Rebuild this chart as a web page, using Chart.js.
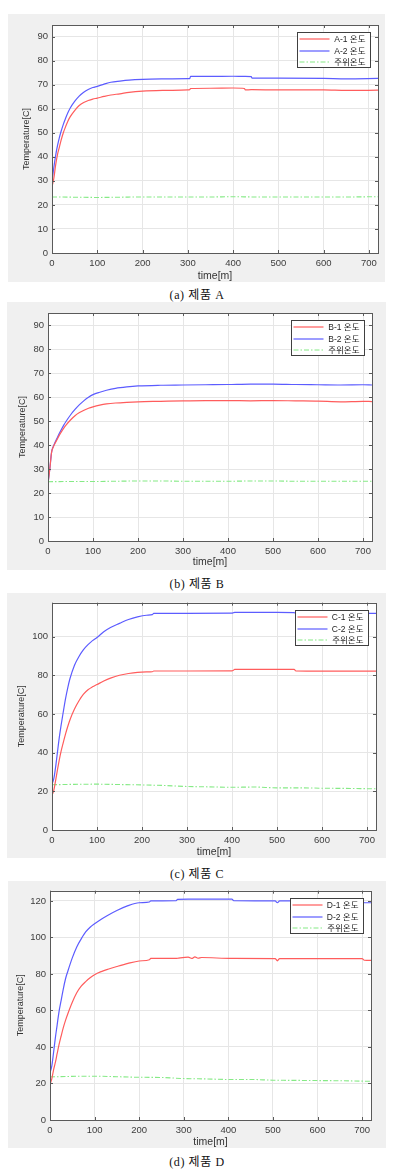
<!DOCTYPE html>
<html>
<head>
<meta charset="utf-8">
<script src="https://cdn.jsdelivr.net/npm/chart.js@4.4.0/dist/chart.umd.min.js"></script>
<style>
body { margin: 0; background: #fff; width: 398px; height: 1171px; position: relative; overflow: hidden; }
.panel { position: absolute; background: #f0f0f0; }
.panel canvas { display: block; }
.cap { position: absolute; left: 0; width: 394px; text-align: center; letter-spacing: 0.6px;
       font: 12px "Liberation Serif", "Noto Sans CJK KR", serif; color: #111; }
</style>
</head>
<body>
<div class="panel" style="left:8px;top:14px;width:377px;height:268px"><canvas id="chartA"></canvas></div>
<div class="cap" style="top:285px">(a) 제품 A</div>
<div class="panel" style="left:7px;top:302px;width:379px;height:268px"><canvas id="chartB"></canvas></div>
<div class="cap" style="top:574px">(b) 제품 B</div>
<div class="panel" style="left:7px;top:593px;width:379px;height:265px"><canvas id="chartC"></canvas></div>
<div class="cap" style="top:864px">(c) 제품 C</div>
<div class="panel" style="left:8px;top:881px;width:378px;height:267px"><canvas id="chartD"></canvas></div>
<div class="cap" style="top:1152px">(d) 제품 D</div>

<script>
// ambient temperature is sampled coarser than the product sensors
var ambTime = [0, 50, 100, 150, 200, 250, 300, 350, 400, 450, 500, 550, 600, 650, 720];

var timeA = [0, 4, 8, 12, 16, 20, 25, 30, 35, 40, 50, 60, 70, 80, 90, 100, 115, 130, 150, 170, 200, 250, 300, 304, 306, 350, 400, 425, 427, 440, 442, 500, 600, 650, 720];
var tempA1 = [27.5, 31, 36.5, 40.8, 43.8, 46.8, 50.0, 52.5, 54.8, 56.6, 59.2, 61.3, 62.6, 63.4, 64.0, 64.4, 65.1, 65.7, 66.2, 66.8, 67.3, 67.6, 67.8, 67.9, 68.4, 68.5, 68.6, 68.4, 67.8, 67.9, 67.9, 67.8, 67.8, 67.6, 67.7];
var tempA2 = [29.6, 35.5, 40.5, 44.5, 47.8, 50.5, 53.5, 56.0, 58.3, 60.2, 63.0, 65.2, 66.8, 68.0, 68.8, 69.3, 70.2, 71.0, 71.5, 71.9, 72.2, 72.4, 72.5, 72.5, 73.4, 73.4, 73.5, 73.4, 73.4, 73.3, 72.7, 72.7, 72.6, 72.4, 72.6];
var ambA = [23.3, 23.2, 23.1, 23.2, 23.3, 23.3, 23.3, 23.3, 23.4, 23.3, 23.3, 23.3, 23.3, 23.3, 23.4];

var timeB = [0, 4, 8, 12, 16, 20, 25, 30, 35, 40, 50, 60, 70, 80, 90, 100, 115, 130, 150, 175, 200, 250, 300, 350, 400, 450, 500, 550, 600, 650, 700, 720];
var tempB1 = [24, 30, 37, 39.3, 40.8, 42.2, 44, 45.6, 47, 48.3, 50.4, 52.2, 53.5, 54.5, 55.3, 55.9, 56.6, 57.1, 57.5, 57.8, 58.0, 58.2, 58.4, 58.5, 58.5, 58.4, 58.5, 58.4, 58.3, 58.0, 58.2, 58.1];
var tempB2 = [24, 30, 37, 39.5, 41.2, 42.8, 44.8, 46.6, 48.3, 49.8, 52.5, 54.8, 56.8, 58.5, 59.9, 61.0, 62.0, 62.8, 63.6, 64.2, 64.6, 64.9, 65.0, 65.1, 65.2, 65.4, 65.4, 65.2, 65.1, 65.0, 65.1, 65.0];
var ambB = [24.7, 24.8, 24.8, 24.9, 25.0, 25.0, 24.9, 24.9, 24.9, 25.0, 25.0, 24.9, 24.9, 24.9, 24.9];

var timeC = [0, 4, 8, 12, 16, 20, 25, 30, 35, 40, 50, 60, 70, 80, 90, 100, 115, 130, 150, 170, 190, 210, 223, 226, 300, 400, 403, 406, 500, 538, 542, 600, 720];
var tempC1 = [17.9, 20.5, 25.5, 31, 36, 40.5, 45.2, 49.6, 53.5, 57, 62.5, 66.8, 70.2, 72.5, 74.0, 75.2, 77.0, 78.5, 80.0, 80.9, 81.5, 81.7, 81.8, 82.2, 82.2, 82.3, 82.6, 83.0, 83.0, 83.0, 82.2, 82.1, 82.1];
var tempC2 = [23.8, 26.5, 32.5, 40, 47.5, 53.8, 61, 67.8, 73.5, 78.3, 85.2, 89.7, 93.2, 95.8, 97.9, 99.5, 102.5, 104.7, 106.8, 108.8, 110.2, 111.0, 111.3, 112.0, 112.0, 112.1, 112.3, 112.5, 112.5, 112.4, 112.0, 112.0, 112.0];
var ambC = [23.4, 23.6, 23.7, 23.5, 23.3, 23.0, 22.5, 22.3, 22.1, 22.2, 21.8, 21.8, 21.6, 21.5, 21.3];

var timeD = [0, 4, 8, 12, 16, 20, 25, 30, 35, 40, 50, 60, 70, 80, 90, 100, 115, 130, 150, 175, 200, 223, 226, 283, 286, 310, 318, 325, 332, 340, 408, 412, 505, 510, 515, 700, 705, 720];
var tempD1 = [19.5, 22.5, 27.5, 31.5, 36.3, 41, 46, 50.7, 54.7, 58.2, 64.5, 69.7, 73.3, 75.8, 77.9, 79.6, 81.3, 82.6, 84.1, 85.8, 87.1, 87.8, 88.5, 88.5, 88.6, 89.2, 88.5, 89.3, 88.6, 89.0, 88.5, 88.5, 88.4, 87.2, 88.4, 88.4, 87.5, 87.4];
var tempD2 = [25.9, 29.5, 37, 45, 52, 59, 65.5, 72, 77.5, 81.5, 88.8, 94.8, 99.2, 103, 105.6, 107.5, 110, 112.2, 114.8, 117.4, 119.0, 119.4, 120.0, 120.1, 120.9, 121.0, 121.0, 121.0, 121.0, 121.0, 121.0, 120.1, 120.0, 119.0, 120.0, 120.0, 119.0, 119.0];
var ambD = [23.6, 23.9, 24.0, 23.7, 23.4, 23.3, 22.7, 22.5, 22.2, 22.2, 21.8, 21.7, 21.6, 21.5, 21.2];

var FONT = '"Liberation Sans", Arial, "Noto Sans CJK KR", sans-serif';

function pts(xs, ys) {
    return xs.map(function(x, i) { return {x: x, y: ys[i]}; });
}

// white axes background, MATLAB style box with inward ticks, legend in the corner
var matlabPlugin = {
    id: 'matlab',
    beforeDraw: function(chart) {
        var a = chart.chartArea, ctx = chart.ctx;
        ctx.save();
        ctx.fillStyle = '#ffffff';
        ctx.fillRect(a.left, a.top, a.right - a.left, a.bottom - a.top);
        ctx.restore();
    },
    afterDatasetsDraw: function(chart) {
        var a = chart.chartArea, ctx = chart.ctx;
        var xs = chart.scales.x, ys = chart.scales.y;
        ctx.save();
        ctx.strokeStyle = '#5a5a5a';
        ctx.lineWidth = 1;
        ctx.beginPath();
        xs.ticks.forEach(function(t) {
            var px = Math.round(xs.getPixelForValue(t.value)) + 0.5;
            ctx.moveTo(px, a.bottom); ctx.lineTo(px, a.bottom - 3);
            ctx.moveTo(px, a.top); ctx.lineTo(px, a.top + 3);
        });
        ys.ticks.forEach(function(t) {
            var py = Math.round(ys.getPixelForValue(t.value)) + 0.5;
            ctx.moveTo(a.left, py); ctx.lineTo(a.left + 3, py);
            ctx.moveTo(a.right, py); ctx.lineTo(a.right - 3, py);
        });
        ctx.stroke();
        ctx.strokeRect(Math.round(a.left) + 0.5, Math.round(a.top) + 0.5,
            Math.round(a.right - a.left), Math.round(a.bottom - a.top));
        ctx.restore();
    },
    afterDraw: function(chart) {
        var a = chart.chartArea, ctx = chart.ctx;
        var w = 73, h = 35;
        var bx = Math.round(a.right - 8 - w) + 0.5, by = Math.round(a.top + 7) + 0.5;
        ctx.save();
        ctx.fillStyle = '#ffffff';
        ctx.fillRect(bx, by, w, h);
        ctx.strokeStyle = '#404040';
        ctx.lineWidth = 1;
        ctx.strokeRect(bx, by, w, h);
        chart.data.datasets.forEach(function(ds, i) {
            var ry = Math.round(by + 6.3 + i * 11.7);
            ctx.strokeStyle = ds.borderColor;
            ctx.lineWidth = ds.borderWidth;
            ctx.setLineDash(ds.borderDash || []);
            ctx.beginPath();
            ctx.moveTo(bx + 2, ry); ctx.lineTo(bx + 32, ry);
            ctx.stroke();
            ctx.setLineDash([]);
            ctx.fillStyle = '#262626';
            ctx.font = '8.5px ' + FONT;
            ctx.textAlign = 'right';
            ctx.textBaseline = 'middle';
            ctx.fillText(ds.label, bx + w - 5, ry + 0.5);
        });
        ctx.restore();
    }
};

function makeChart(id, p) {
    var el = document.getElementById(id).getContext('2d');
    return new Chart(el, {
        type: 'line',
        data: {
            datasets: [
                { label: p.names[0], data: pts(p.time, p.s1), borderColor: '#ff5c5c', borderWidth: 1.2,
                  pointRadius: 0, cubicInterpolationMode: 'monotone' },
                { label: p.names[1], data: pts(p.time, p.s2), borderColor: '#5c5cff', borderWidth: 1.2,
                  pointRadius: 0, cubicInterpolationMode: 'monotone' },
                { label: '주위온도', data: pts(ambTime, p.amb), borderColor: '#86ea86', borderWidth: 1.1,
                  borderDash: [5, 2, 1.5, 2], pointRadius: 0, cubicInterpolationMode: 'monotone' }
            ]
        },
        options: {
            responsive: true,
            maintainAspectRatio: false,
            animation: false,
            events: [],
            layout: { padding: { top: p.padTop, right: p.padRight, left: 0, bottom: 0 } },
            plugins: { legend: { display: false }, tooltip: { enabled: false } },
            scales: {
                x: {
                    type: 'linear', min: 0, max: 720,
                    afterFit: function(s) { s.height = p.xHeight; },
                    ticks: { stepSize: 100, includeBounds: false, padding: 5, maxRotation: 0,
                             color: '#3c3c3c', font: { family: FONT, size: 9.5 } },
                    grid: { color: '#e6e6e6', drawTicks: false },
                    border: { display: false },
                    title: { display: true, text: 'time[m]', color: '#333333', padding: { top: 0, bottom: p.xTitlePad },
                             font: { family: FONT, size: 10.5 } }
                },
                y: {
                    min: 0, max: p.yMax,
                    afterFit: function(s) { s.width = p.yWidth; },
                    ticks: { stepSize: p.yStep, includeBounds: false, padding: 4,
                             color: '#3c3c3c', font: { family: FONT, size: 9.5 } },
                    grid: { color: '#e6e6e6', drawTicks: false },
                    border: { display: false },
                    title: { display: true, text: 'Temperature[C]', color: '#333333', padding: { top: p.yTitlePad, bottom: 0 },
                             font: { family: FONT, size: 9 } }
                }
            }
        },
        plugins: [matlabPlugin]
    });
}

makeChart('chartA', { time: timeA, s1: tempA1, s2: tempA2, amb: ambA, names: ['A-1 온도', 'A-2 온도'],
    yMax: 94.8, yStep: 10, padTop: 11, padRight: 7, yWidth: 44, xHeight: 29, yTitlePad: 13.5, xTitlePad: 0 });
makeChart('chartB', { time: timeB, s1: tempB1, s2: tempB2, amb: ambB, names: ['B-1 온도', 'B-2 온도'],
    yMax: 95, yStep: 10, padTop: 11, padRight: 14, yWidth: 41, xHeight: 29, yTitlePad: 10, xTitlePad: 2 });
makeChart('chartC', { time: timeC, s1: tempC1, s2: tempC2, amb: ambC, names: ['C-1 온도', 'C-2 온도'],
    yMax: 117.5, yStep: 20, padTop: 7, padRight: 10, yWidth: 45, xHeight: 28, yTitlePad: 9, xTitlePad: 0 });
makeChart('chartD', { time: timeD, s1: tempD1, s2: tempD2, amb: ambD, names: ['D-1 온도', 'D-2 온도'],
    yMax: 125.6, yStep: 20, padTop: 8, padRight: 15, yWidth: 42, xHeight: 28, yTitlePad: 7, xTitlePad: 0 });
</script>
</body>
</html>
